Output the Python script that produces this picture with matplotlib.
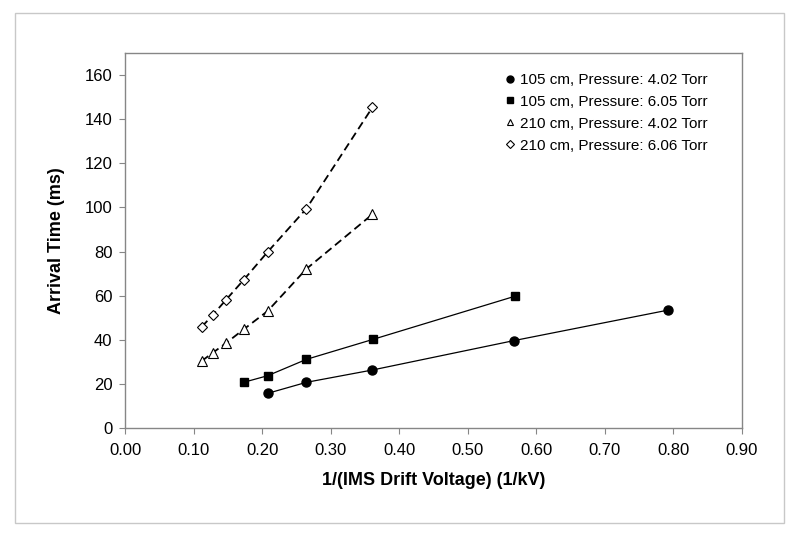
import matplotlib
matplotlib.use("Agg")
from matplotlib import pyplot as plt
from matplotlib.patches import Rectangle
from matplotlib.lines import Line2D

plt.rcParams['font.family'] = ['Liberation Sans', 'DejaVu Sans']

# 105 cm, 4.02 Torr
x_105_402 = [0.208, 0.2645, 0.361, 0.567, 0.7915]
y_105_402 = [15.7, 20.7, 26.3, 39.6, 53.4]
# 105 cm, 6.05 Torr
x_105_605 = [0.173, 0.208, 0.2645, 0.362, 0.5695]
y_105_605 = [20.7, 23.7, 31.1, 40.2, 59.8]
# 210 cm, 4.02 Torr
x_210_402 = [0.112, 0.128, 0.147, 0.173, 0.208, 0.2645, 0.361]
y_210_402 = [30.4, 34.1, 38.4, 44.7, 53.0, 72.1, 96.9]
# 210 cm, 6.06 Torr
x_210_606 = [0.112, 0.128, 0.147, 0.173, 0.208, 0.2645, 0.361]
y_210_606 = [45.9, 51.2, 58.0, 67.1, 79.8, 99.4, 145.4]

labels = ["105 cm, Pressure: 4.02 Torr", "105 cm, Pressure: 6.05 Torr",
          "210 cm, Pressure: 4.02 Torr", "210 cm, Pressure: 6.06 Torr"]

fig = plt.figure(figsize=(8.0, 5.42), dpi=100)
ax = fig.add_axes([125/800, 1-428/542, (742-125)/800, (428-53)/542])

# outer chart border
fig.patches.append(Rectangle((15/800, 1-523/542), (784-15)/800, (523-13)/542,
                             transform=fig.transFigure, fill=False,
                             edgecolor='#c8c8c8', linewidth=1.0))

dash = (0, (4.5, 2.5))
ax.plot(x_105_402, y_105_402, color='black', lw=0.9, marker='o', ms=6.5,
        mfc='black', mec='black')
ax.plot(x_105_605, y_105_605, color='black', lw=0.9, marker='s', ms=6,
        mfc='black', mec='black')
ax.plot(x_210_402, y_210_402, color='black', lw=1.3, ls=dash, marker='^',
        ms=6.5, mfc='white', mec='black', mew=0.8)
ax.plot(x_210_606, y_210_606, color='black', lw=1.3, ls=dash, marker='D',
        ms=4.8, mfc='white', mec='black', mew=0.8)

# legend shows markers only
hl = [Line2D([], [], ls='none', marker='o', ms=5, color='black'),
      Line2D([], [], ls='none', marker='s', ms=5, color='black'),
      Line2D([], [], ls='none', marker='^', ms=5, mfc='white', mec='black', mew=0.8),
      Line2D([], [], ls='none', marker='D', ms=4, mfc='white', mec='black', mew=0.8)]
ax.legend(hl, labels, loc='upper left', bbox_to_anchor=(0.585, 1.0), frameon=False,
          fontsize=11, handlelength=0.6, handletextpad=0.3, labelspacing=0.52,
          borderaxespad=0.9)

ax.set_xlim(0, 0.9)
ax.set_ylim(0, 170)
ax.set_xticks([i / 10 for i in range(10)])
ax.set_xticklabels([f"{i/10:.2f}" for i in range(10)])
ax.set_yticks(range(0, 161, 20))

for s in ax.spines.values():
    s.set_color('#868686')
    s.set_linewidth(1.0)
ax.tick_params(axis='both', colors='#868686', labelcolor='black', labelsize=12,
               length=4, width=0.8)
ax.tick_params(axis='x', pad=7)
ax.tick_params(axis='y', pad=5)

ax.set_xlabel("1/(IMS Drift Voltage) (1/kV)", fontsize=13, fontweight='bold', labelpad=10)
ax.set_ylabel("Arrival Time (ms)", fontsize=13, fontweight='bold', labelpad=14)

fig.savefig("out.png", dpi=100)
